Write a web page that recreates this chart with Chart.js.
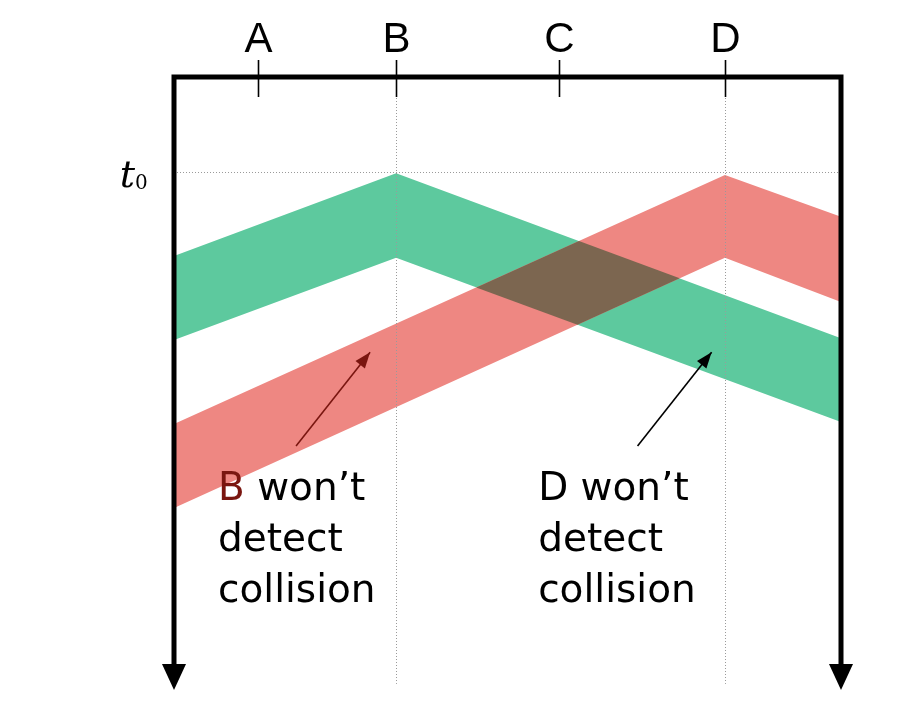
<!DOCTYPE html>
<html>
<head>
<meta charset="utf-8">
<script src="https://cdn.jsdelivr.net/npm/chart.js@4.4.1/dist/chart.umd.min.js"></script>
<style>
  html, body { margin: 0; padding: 0; background: #fff; }
  canvas { display: block; }
</style>
</head>
<body>
<canvas id="chart" width="922" height="716"></canvas>
<script>
// positions along the cable (0 = left end, 100 = right end)
const stations = ['A', 'B', 'C', 'D'];
const stationX = [12.6, 33.3, 57.7, 82.6];
const dottedStations = ['B', 'D'];

// time runs downwards (0 = top of the diagram)
const t0 = 15.5;

// B's frame spreads out from B (green band)
const greenX = [0, 33.3, 100];
const greenTop = [29.2, 15.7, 42.6];
const greenBottom = [42.9, 29.5, 56.3];

// D's frame spreads out from D (red band)
const redX = [0, 82.6, 100];
const redTop = [56.6, 16.0, 22.8];
const redBottom = [70.3, 29.5, 36.7];

// annotation arrows: [start, end]
const arrowB = [[18.3, 60.2], [29.4, 44.9]];
const arrowD = [[69.5, 60.2], [80.6, 44.9]];

const noteB = ['B won\u2019t', 'detect', 'collision'];
const noteD = ['D won\u2019t', 'detect', 'collision'];

const GREEN = '#5dc99e';
const RED = '#ee8782';
const BROWN = '#7c6650';
const DARKRED = '#7a1610';

const pts = (xs, ys) => xs.map((x, i) => ({x: x, y: ys[i]}));

// crossing of two segments (in data units)
const cross = (p1, p2, p3, p4) => {
    const d = (p1.x - p2.x) * (p3.y - p4.y) - (p1.y - p2.y) * (p3.x - p4.x);
    const t = ((p1.x - p3.x) * (p3.y - p4.y) - (p1.y - p3.y) * (p3.x - p4.x)) / d;
    return {x: p1.x + t * (p2.x - p1.x), y: p1.y + t * (p2.y - p1.y)};
};

const gT = pts(greenX, greenTop), gB = pts(greenX, greenBottom);
const rT = pts(redX, redTop), rB = pts(redX, redBottom);
// where the green band (going right) and the red band (going left) overlap
const ovLeft = cross(gB[1], gB[2], rT[0], rT[1]);
const ovTop = cross(gT[1], gT[2], rT[0], rT[1]);
const ovRight = cross(gT[1], gT[2], rB[0], rB[1]);
const ovBottom = cross(gB[1], gB[2], rB[0], rB[1]);

const band = (data, color, fill) => ({
    data: data,
    borderWidth: 0,
    pointRadius: 0,
    backgroundColor: color,
    borderColor: color,
    fill: fill,
    tension: 0
});

const arrowLine = (a, color) => ({
    data: a.map(p => ({x: p[0], y: p[1]})),
    borderColor: color,
    borderWidth: 1.6,
    pointRadius: 0,
    fill: false,
    tension: 0
});

const framePlugin = {
    id: 'frame',
    afterDatasetsDraw(chart) {
        const ctx = chart.ctx;
        const xs = chart.scales.x, ys = chart.scales.y;
        const X = v => xs.getPixelForValue(v);
        const Y = v => ys.getPixelForValue(v);
        ctx.save();

        // dotted guides
        ctx.strokeStyle = '#9a9a9a';
        ctx.lineWidth = 1;
        ctx.setLineDash([1, 2]);
        ctx.beginPath();
        dottedStations.forEach(s => {
            const x = Math.round(X(stationX[stations.indexOf(s)])) + 0.5;
            ctx.moveTo(x, Y(0));
            ctx.lineTo(x, Y(99));
        });
        const yt = Math.round(Y(t0)) + 0.5;
        ctx.moveTo(X(0), yt);
        ctx.lineTo(X(100), yt);
        ctx.stroke();
        ctx.setLineDash([]);

        // arrow heads of the annotation arrows
        [[arrowB, DARKRED], [arrowD, '#000']].forEach(([a, c]) => {
            const x1 = X(a[0][0]), y1 = Y(a[0][1]);
            const x2 = X(a[1][0]), y2 = Y(a[1][1]);
            const ang = Math.atan2(y2 - y1, x2 - x1);
            const L = 16, W = 6;
            ctx.fillStyle = c;
            ctx.beginPath();
            ctx.moveTo(x2, y2);
            ctx.lineTo(x2 - L * Math.cos(ang) + W * Math.sin(ang), y2 - L * Math.sin(ang) - W * Math.cos(ang));
            ctx.lineTo(x2 - L * Math.cos(ang) - W * Math.sin(ang), y2 - L * Math.sin(ang) + W * Math.cos(ang));
            ctx.closePath();
            ctx.fill();
        });

        // cable and time axes
        ctx.strokeStyle = '#000';
        ctx.fillStyle = '#000';
        ctx.lineWidth = 5;
        ctx.lineJoin = 'miter';
        ctx.beginPath();
        ctx.moveTo(X(0), Y(100) - 20);
        ctx.lineTo(X(0), Y(0));
        ctx.lineTo(X(100), Y(0));
        ctx.lineTo(X(100), Y(100) - 20);
        ctx.stroke();
        [0, 100].forEach(v => {
            ctx.beginPath();
            ctx.moveTo(X(v), Y(100));
            ctx.lineTo(X(v) - 12, Y(100) - 26);
            ctx.lineTo(X(v) + 12, Y(100) - 26);
            ctx.closePath();
            ctx.fill();
        });

        // station ticks and names
        ctx.lineWidth = 1.6;
        ctx.font = '42px "Liberation Sans", Arial, sans-serif';
        ctx.textAlign = 'center';
        ctx.textBaseline = 'alphabetic';
        stations.forEach((s, i) => {
            const x = Math.round(X(stationX[i])) + 0.5;
            ctx.beginPath();
            ctx.moveTo(x, Y(0) - 17);
            ctx.lineTo(x, Y(0) + 20);
            ctx.stroke();
            ctx.fillText(s, x, Y(0) - 25);
        });

        // t0 label
        ctx.textAlign = 'right';
        ctx.font = 'italic 38px "DejaVu Serif", serif';
        ctx.fillText('t', X(0) - 39, Y(t0) + 15);
        ctx.textAlign = 'left';
        ctx.font = '20px "DejaVu Serif", serif';
        ctx.fillText('0', X(0) - 39, Y(t0) + 17);

        // notes
        ctx.font = '39px "DejaVu Sans", sans-serif';
        const drawNote = (lines, x, y, firstColor) => {
            lines.forEach((ln, i) => {
                const by = y + i * 51;
                if (i === 0 && firstColor) {
                    ctx.fillStyle = firstColor;
                    ctx.fillText(ln[0], x, by);
                    const w = ctx.measureText(ln[0]).width;
                    ctx.fillStyle = '#000';
                    ctx.fillText(ln.slice(1), x + w, by);
                } else {
                    ctx.fillStyle = '#000';
                    ctx.fillText(ln, x, by);
                }
            });
        };
        drawNote(noteB, X(6.6), Y(69.0), DARKRED);
        drawNote(noteD, X(54.6), Y(69.0), null);

        ctx.restore();
    }
};

const chart = new Chart(document.getElementById('chart').getContext('2d'), {
    type: 'line',
    data: {
        datasets: [
            arrowLine(arrowB, DARKRED),
            arrowLine(arrowD, '#000'),
            band([ovLeft, ovTop, ovRight], BROWN, '+1'),
            band([ovLeft, ovBottom, ovRight], BROWN, false),
            band(rT, RED, '+1'),
            band(rB, RED, false),
            band(gT, GREEN, '+1'),
            band(gB, GREEN, false)
        ]
    },
    options: {
        responsive: false,
        animation: false,
        events: [],
        layout: { padding: { left: 174, right: 81, top: 77, bottom: 26 } },
        plugins: {
            legend: { display: false },
            tooltip: { enabled: false },
            title: { display: false }
        },
        scales: {
            x: { type: 'linear', min: 0, max: 100, display: false },
            y: { type: 'linear', min: 0, max: 100, reverse: true, display: false }
        }
    },
    plugins: [framePlugin]
});
</script>
</body>
</html>
